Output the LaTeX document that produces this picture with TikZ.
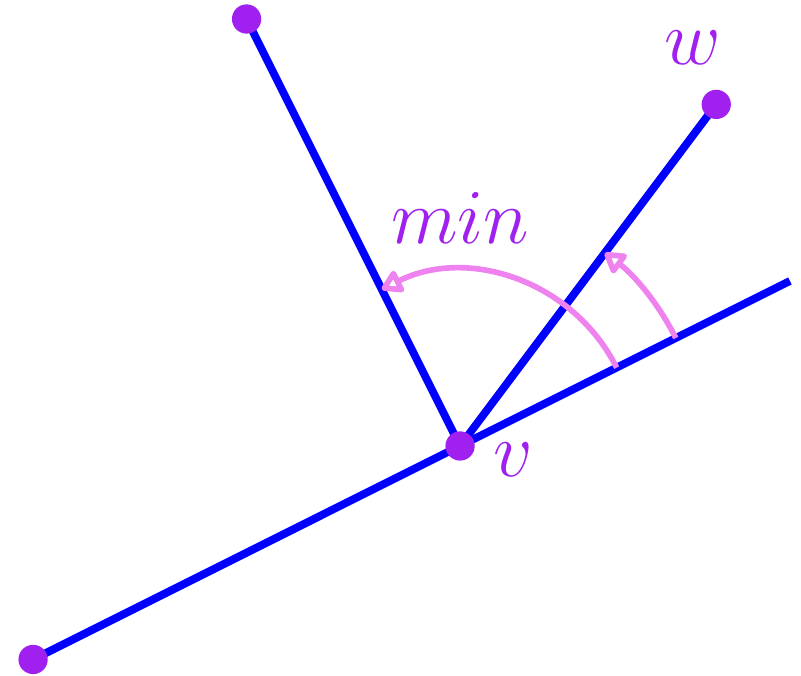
\documentclass[tikz,border=0pt]{standalone}
\usepackage{xcolor}
\definecolor{linkblue}{HTML}{0000FF}
\definecolor{dotpurple}{HTML}{A020F0}
\definecolor{arcpink}{HTML}{EE82EE}
\usepackage{tikz}
\usetikzlibrary{
  arrows.meta,
  positioning,
  backgrounds
}

\begin{document}
\begin{tikzpicture}[
  x=2cm, y=2cm,
  vertex/.style={circle, fill=dotpurple, inner sep=0pt, minimum size=7.8pt},
  edge/.style={linkblue, line width=2.1pt},
  turn/.style={-{Triangle[open, round, length=6.2pt, width=7pt]}, arcpink, line width=1.5pt},
  tag/.style={dotpurple, font=\fontsize{22.5}{27}\selectfont},
]
\useasboundingbox (-2.155,-1.077) rectangle (1.597,2.089);

\node[vertex] (v) at (0,0) {};
\node[vertex] (a) at (-1,2) {};
\node[vertex] (w) at (1.2,1.6) {};
\node[vertex] (b) at (-2,-1) {};
\coordinate (c) at (1.545,0.773);

\node[tag] (vlab) at (0.248,-0.066) {$v$};
\node[tag] (wlab) at (1.091,1.864) {$w$};
\node[tag] (minlab) at (0,1.066) {$min$};

\begin{scope}[on background layer]
\draw[edge] (b.center) -- (c);
\draw[edge] (v.center) -- (a.center);
\draw[edge] (v.center) -- (w.center);
\end{scope}

% angles
\coordinate (s1) at (26.57:0.82);
\coordinate (s2) at (26.57:1.13);
\draw[turn] (s1) arc[start angle=26.57, end angle=116.57, radius=0.82];
\draw[turn] (s2) arc[start angle=26.57, end angle=53.13, radius=1.13];

\end{tikzpicture}
\end{document}
